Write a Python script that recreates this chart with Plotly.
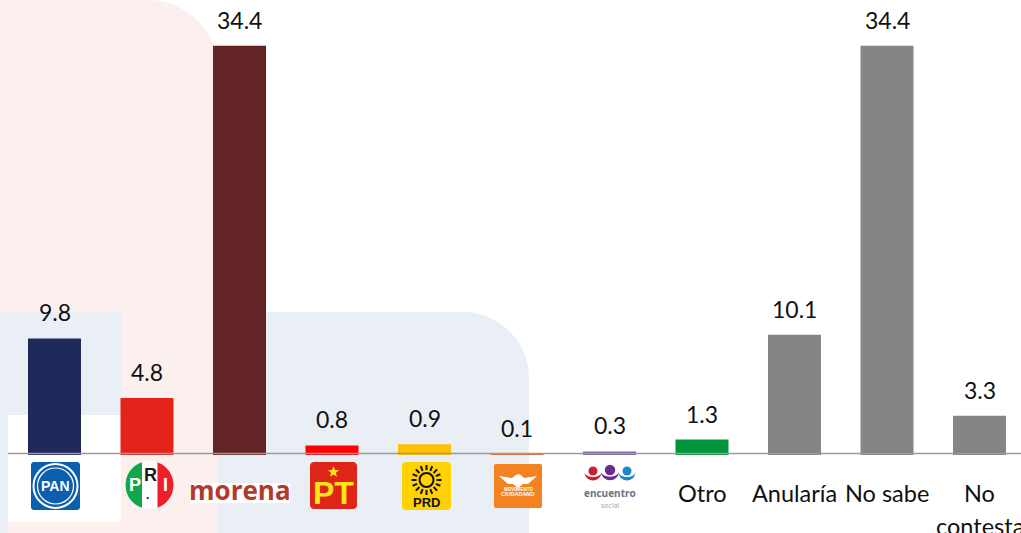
import math
import plotly.graph_objects as go

categories = ["PAN", "PRI", "morena", "PT", "PRD", "MC", "Encuentro social", "Otro", "Anularía", "No sabe", "No contesta"]
values = [9.8, 4.8, 34.4, 0.8, 0.9, 0.1, 0.3, 1.3, 10.1, 34.4, 3.3]
value_labels = ["9.8", "4.8", "34.4", "0.8", "0.9", "0.1", "0.3", "1.3", "10.1", "34.4", "3.3"]
bar_colors = ["#1F2A5A", "#E3241B", "#622424", "#FF0000", "#FFC000", "#E36C2F", "#8064A2",
              "#00953B", "#858585", "#858585", "#858585"]
text_label_pos = [7, 8, 9, 10, 10]
text_label_lines = ["Otro", "Anularía", "No sabe", "No", "contesta"]
text_label_rows = [0, 0, 0, 0, 1]

W, H, PLOT_H = 1021, 533, 455
FONT = "Lato"
PINK, PALE = "#FBF0EE", "#E9EFF4"


def fx(p):
    return p / W


def fy(p):
    return 1 - p / PLOT_H


def P(x, y):
    return f"{fx(x):.5f},{fy(y):.5f}"


def poly(pts):
    return "M" + "L".join(P(x, y) for x, y in pts) + "Z"


def rrect(x0, y0, x1, y1, r=0, rtr=None):
    rt = r if rtr is None else rtr
    pts = []

    def arc(cx, cy, rad, a0, a1):
        if rad == 0:
            pts.append((cx, cy))
            return
        for i in range(13):
            a = math.radians(a0 + (a1 - a0) * i / 12)
            pts.append((cx + rad * math.cos(a), cy + rad * math.sin(a)))
    arc(x0 + r, y0 + r, r, 180, 270)
    arc(x1 - rt, y0 + rt, rt, 270, 360)
    arc(x1 - r, y1 - r, r, 0, 90)
    arc(x0 + r, y1 - r, r, 90, 180)
    return poly(pts)


def shape(path, fill, layer="above"):
    return dict(type="path", xref="paper", yref="paper", path=path, fillcolor=fill, layer=layer,
                line=dict(width=0))


def circle(cx, cy, r, fill=None, line=None, lw=0):
    return dict(type="circle", xref="paper", yref="paper", x0=fx(cx - r), x1=fx(cx + r),
                y0=fy(cy + r), y1=fy(cy - r), layer="above",
                fillcolor=fill or "rgba(0,0,0,0)", line=dict(color=line or "rgba(0,0,0,0)", width=lw))


def label(cx, cy, text, size, color, family="Liberation Sans", bold=False):
    return dict(xref="paper", yref="paper", x=fx(cx), y=fy(cy), xanchor="center", yanchor="middle",
                showarrow=False, text=f"<b>{text}</b>" if bold else text,
                font=dict(family=family, size=size, color=color))


def seg(cx, cy, r, x0, x1):
    pts = []
    for i in range(25):
        x = x0 + (x1 - x0) * i / 24
        pts.append((x, cy - math.sqrt(max(r * r - (x - cx) ** 2, 0))))
    for i in range(25):
        x = x1 - (x1 - x0) * i / 24
        pts.append((x, cy + math.sqrt(max(r * r - (x - cx) ** 2, 0))))
    return poly(pts)


def star(cx, cy, r):
    pts = []
    for k in range(10):
        a = math.radians(-90 + 36 * k)
        rad = r if k % 2 == 0 else r * 0.42
        pts.append((cx + rad * math.cos(a), cy + rad * math.sin(a)))
    return poly(pts)


def crescent(cx, cy, r0, r1, color):
    pts = [(cx + r0 * math.cos(math.radians(a)), cy + r0 * math.sin(math.radians(a))) for a in range(0, 181, 10)]
    pts += [(cx + r0 * math.cos(math.radians(a)), cy + r1 * math.sin(math.radians(a))) for a in range(180, -1, -10)]
    return shape(poly(pts), color)


shapes = [
    shape(rrect(0, 0, 218, 533, 0, 70), PINK, "below"),
    shape(rrect(218, 312, 529, 533, 0, 66), PALE, "below"),
    shape(rrect(0, 312, 121, 533), PALE, "below"),
    shape(rrect(8, 522, 218, 533), PINK, "below"),
    shape(rrect(8, 415, 121, 522), "#FFFFFF", "below"),
    dict(type="line", xref="paper", yref="paper", x0=fx(8), x1=1, y0=fy(453.5), y1=fy(453.5),
         layer="above", line=dict(color="#9A9A9A", width=1.5)),
]
notes = []

# value labels, placed from the data
for i, (v, t) in enumerate(zip(values, value_labels)):
    notes.append(dict(xref="x", yref="y", x=i, y=v, yshift=26, xanchor="center", yanchor="middle",
                      showarrow=False, text=t, font=dict(family=FONT, size=23, color="#111111")))

# text category labels
for pos, t, row in zip(text_label_pos, text_label_lines, text_label_rows):
    notes.append(dict(xref="x", yref="paper", x=pos, y=fy(493 + 33 * row), xanchor="center", yanchor="middle",
                      showarrow=False, text=t, font=dict(family=FONT, size=23.5, color="#111111")))

# PAN
shapes += [shape(rrect(31, 462, 80, 510, 3), "#0B5FAE"),
           circle(55.5, 486, 22, None, "#FFFFFF", 2),
           circle(55.5, 486, 18, None, "#FFFFFF", 1.2)]
notes.append(label(55.5, 486, "PAN", 14, "#FFFFFF", bold=True))

# PRI
shapes += [circle(149.5, 485, 24, "#FFFFFF"),
           shape(seg(149.5, 485, 24, 125.5, 142), "#10A64A"),
           shape(seg(149.5, 485, 24, 157.5, 173.5), "#F01D2A")]
notes += [label(135, 485, "P", 18, "#FFFFFF", bold=True),
          label(150, 475, "R", 18, "#1A1A1A", bold=True),
          label(165, 485, "I", 18, "#FFFFFF", bold=True),
          label(147, 495, ".", 12, "#1A1A1A", bold=True)]

# morena
shapes.append(shape(rrect(190, 483, 290, 503), "#FFFFFF"))
notes.append(label(239.5, 490, "morena", 26, "#B03A2B", "Open Sans", True))

# PT
shapes += [shape(rrect(310, 462, 357, 509, 4), "#DE2518"),
           shape(star(333.5, 472, 6), "#FFE01A")]
notes.append(label(333.5, 493, "PT", 32, "#FBE716", bold=True))

# PRD
shapes += [shape(rrect(402, 462, 451, 510, 4), "#FFD200"),
           circle(426.5, 480, 7, None, "#111111", 2)]
for k in range(16):
    a = 2 * math.pi * k / 16
    shapes.append(dict(type="line", xref="paper", yref="paper", layer="above",
                       x0=fx(426.5 + 10 * math.cos(a)), x1=fx(426.5 + 15 * math.cos(a)),
                       y0=fy(480 + 10 * math.sin(a)), y1=fy(480 + 15 * math.sin(a)),
                       line=dict(color="#111111", width=2)))
notes.append(label(426.5, 502, "PRD", 13, "#111111", bold=True))

# Movimiento Ciudadano
shapes += [shape(rrect(494, 464, 542, 508, 2), "#F58220"),
           shape(poly([(499, 476), (512, 478), (516, 475), (518, 474), (521, 475), (524, 478),
                       (537, 476), (528, 484), (523, 484), (518, 488), (513, 484), (508, 484)]), "#FFFFFF")]
notes += [label(518, 489.5, "MOVIMIENTO", 4.5, "#FFFFFF", bold=True),
          label(518, 494.5, "CIUDADANO", 5.5, "#FFFFFF", bold=True)]

# Encuentro social
for cx, cy, r, col in [(593, 471, 4.5, "#C8202F"), (610, 470, 5.2, "#6A2C91"), (627, 471, 4.5, "#1C87C9")]:
    shapes += [circle(cx, cy, r, col), crescent(cx, cy + 1, r + 4, r + 0.5, col)]
notes += [label(610, 493, "encuentro", 10, "#6B7280", "Open Sans", True),
          label(610, 505, "social", 7, "#9CA3AF", "Open Sans")]

fig = go.Figure(go.Bar(
    x=list(range(len(categories))), y=values, customdata=categories,
    marker=dict(color=bar_colors, line=dict(width=0)), width=53 / 92.5,
))
fig.update_layout(
    template="none",
    width=W, height=H, margin=dict(l=0, r=0, t=0, b=H - PLOT_H, pad=0), showlegend=False,
    paper_bgcolor="#FFFFFF", plot_bgcolor="rgba(0,0,0,0)", shapes=shapes, annotations=notes,
    xaxis=dict(range=[-54.5 / 92.5, (W - 54.5) / 92.5], showticklabels=False,
               ticks="", showgrid=False, zeroline=False, showline=False, automargin=False),
    yaxis=dict(range=[0, PLOT_H / 11.9], visible=False, showgrid=False, zeroline=False, automargin=False),
)
fig.write_html("out.html", config={"displayModeBar": False},
               post_script="document.body.style.margin='0';")
